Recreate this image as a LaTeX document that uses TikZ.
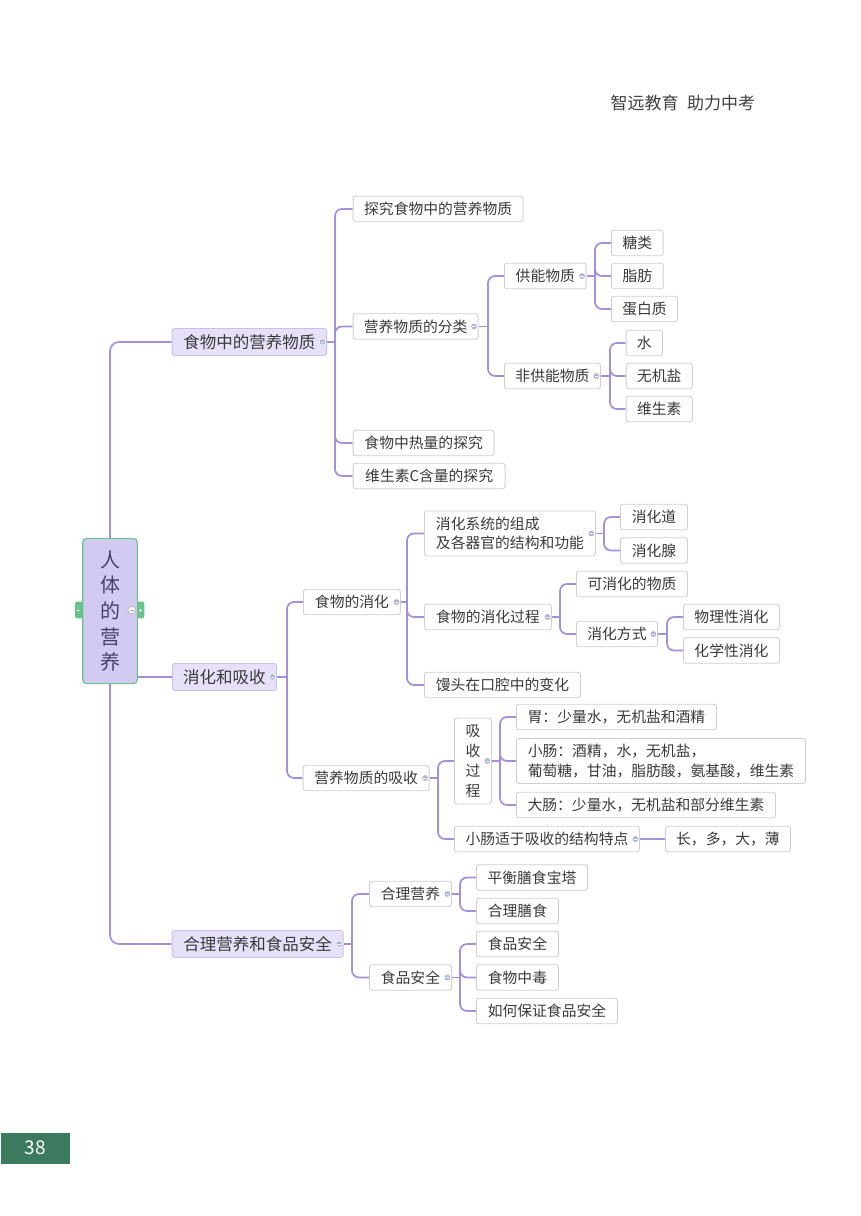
\documentclass[tikz,border=0pt]{standalone}
\usepackage{fontspec}
\setmainfont{Noto Sans CJK SC}
\usetikzlibrary{calc}
\definecolor{conncol}{HTML}{A48FDD}
\definecolor{bordergray}{HTML}{CFCFCF}
\definecolor{txt}{HTML}{3A3A3A}
\definecolor{lonefill}{HTML}{E6E1F8}
\definecolor{loneborder}{HTML}{C8BFEC}
\definecolor{rootfill}{HTML}{D2CAF0}
\definecolor{rootborder}{HTML}{66C38A}
\definecolor{roottext}{HTML}{4B4166}
\definecolor{iconcol}{HTML}{A7B3D8}
\definecolor{pagegreen}{HTML}{3B7A5E}
\definecolor{headgray}{HTML}{404040}
\pgfdeclarelayer{bg}
\pgfsetlayers{bg,main}
\newcommand\branch[3]{%
  \coordinate (vx) at (#2,0);
  \draw[cn] (#1.east) -- (#1.east -| vx);
  \foreach \c in {#3}{\draw[cn] (#1.east -| vx) |- (\c.west);}
}
\newcommand\collapseicon[1]{%
  \filldraw[fill=iconcol, draw=white, line width=0.6pt] ($(#1.east)+(-4.5,0)$) circle (3.3pt);
  \draw[white, line width=0.8pt] ($(#1.east)+(-6.3,0)$) -- ($(#1.east)+(-2.7,0)$);
}
\begin{document}
\begin{tikzpicture}[x=1pt,y=-1pt,
  box/.style={draw=bordergray, line width=0.9pt, rounded corners=2.5pt, fill=white, text=txt,
     font=\fontsize{14.8}{20}\selectfont, inner xsep=3pt, inner ysep=0pt, minimum height=25.5pt,
     anchor=west, align=center},
  lone/.style={box, fill=lonefill, draw=loneborder, font=\fontsize{16.5}{20}\selectfont, minimum height=27pt},
  cn/.style={draw=conncol, line width=1.7pt, rounded corners=7pt},
]
\useasboundingbox (0,0) rectangle (860,1216);

% header and page number
\node[text=headgray, font=\fontsize{17}{20}\selectfont, anchor=west, inner sep=0pt] (hdr) at (610.5,103) {智远教育\hspace{0.5em}助力中考};
\node[fill=pagegreen, minimum width=68.5pt, minimum height=30.6pt, anchor=north west, inner sep=0pt,
      text=white, font=\fontsize{19}{20}\selectfont] (pg) at (1,1132.7) {38};

% root
\node[draw=rootborder, fill=rootfill, line width=1.1pt, rounded corners=4pt, text=roottext,
      minimum width=54.6pt, minimum height=145.3pt, inner sep=0pt, align=center,
      font=\fontsize{20}{25.7}\selectfont] (root) at (110,611) {人\\体\\的\\营\\养};

% level 1
\node[lone, minimum width=154.5pt] (n1) at (171.7,342) {食物中的营养物质};
\node[lone, minimum width=104pt] (n2) at (172,677) {消化和吸收};
\node[lone, minimum width=171pt] (n3) at (171.7,944) {合理营养和食品安全};

% branch 1
\node[box, minimum width=170pt] (a1) at (352.7,209) {探究食物中的营养物质};
\node[box, minimum width=125pt] (a2) at (352.7,326.5) {营养物质的分类};
\node[box, minimum width=141pt] (a3) at (352.7,443) {食物中热量的探究};
\node[box, minimum width=152pt] (a4) at (352.7,476) {维生素C含量的探究};
\node[box, minimum width=81.7pt] (b1) at (504,276) {供能物质};
\node[box, minimum width=96pt] (b2) at (504,376) {非供能物质};
\node[box, minimum width=51.7pt] (c1) at (611,243) {糖类};
\node[box, minimum width=51.7pt] (c2) at (611,276) {脂肪};
\node[box, minimum width=66pt] (c3) at (611,309) {蛋白质};
\node[box, minimum width=36.3pt] (c4) at (625.7,343) {水};
\node[box, minimum width=66.3pt] (c5) at (625.7,376) {无机盐};
\node[box, minimum width=66.3pt] (c6) at (625.7,409) {维生素};

% branch 2
\node[box, minimum width=97pt] (d1) at (303,602) {食物的消化};
\node[box, minimum width=126pt] (d2) at (302.7,778) {营养物质的吸收};
\node[box, minimum width=171pt, minimum height=45pt, align=left, font=\fontsize{14.8}{19.5}\selectfont] (e1) at (424,533.5) {消化系统的组成\\及各器官的结构和功能};
\node[box, minimum width=127pt] (e2) at (424,617) {食物的消化过程};
\node[box, minimum width=156pt] (e3) at (424,685) {馒头在口腔中的变化};
\node[box, minimum width=67pt] (f1) at (620,517) {消化道};
\node[box, minimum width=67pt] (f2) at (620,550.5) {消化腺};
\node[box, minimum width=111pt] (g1) at (576,584) {可消化的物质};
\node[box, minimum width=81pt] (g2) at (576,634) {消化方式};
\node[box, minimum width=96pt] (h1) at (683,617) {物理性消化};
\node[box, minimum width=96pt] (h2) at (683,650.5) {化学性消化};
\node[box, minimum width=37pt, minimum height=86pt] (i1) at (454,761) {吸\\收\\过\\程};
\node[box, minimum width=185pt] (i2) at (454,839) {小肠适于吸收的结构特点};
\node[box, minimum width=200pt] (j1) at (516,717) {胃：少量水，无机盐和酒精};
\node[box, minimum width=289pt, minimum height=45pt, align=left] (j2) at (516,761) {小肠：酒精，水，无机盐，\\葡萄糖，甘油，脂肪酸，氨基酸，维生素};
\node[box, minimum width=259pt] (j3) at (516,805) {大肠：少量水，无机盐和部分维生素};
\node[box, minimum width=125pt] (k1) at (665,839) {长，多，大，薄};

% branch 3
\node[box, minimum width=82pt] (m1) at (369,894) {合理营养};
\node[box, minimum width=82pt] (m2) at (369,977.5) {食品安全};
\node[box, minimum width=111pt] (p1) at (476,877.5) {平衡膳食宝塔};
\node[box, minimum width=82pt] (p2) at (476,911) {合理膳食};
\node[box, minimum width=82pt] (p3) at (476,944) {食品安全};
\node[box, minimum width=82pt] (p4) at (476,977.5) {食物中毒};
\node[box, minimum width=141pt] (p5) at (476,1011) {如何保证食品安全};

\begin{pgfonlayer}{bg}
  % root trunk
  \draw[cn, rounded corners=9pt] (root.north) |- (n1.west);
  \draw[cn, rounded corners=9pt] (root.south) |- (n3.west);
  \draw[cn] (root.east |- n2.west) -- (n2.west);
  % side tabs of root
  \fill[rootborder, rounded corners=2pt] (75,601.7) rectangle (83,618.3);
  \fill[rootborder, rounded corners=2pt] (137,601.7) rectangle (144.3,618.3);
  \branch{n1}{335}{a1,a2,a3,a4}
  \branch{a2}{488}{b1,b2}
  \branch{b1}{595}{c1,c2,c3}
  \branch{b2}{610}{c4,c5,c6}
  \branch{n2}{287}{d1,d2}
  \branch{d1}{407}{e1,e2,e3}
  \branch{e1}{604}{f1,f2}
  \branch{e2}{560}{g1,g2}
  \branch{g2}{667}{h1,h2}
  \branch{d2}{438}{i1,i2}
  \branch{i1}{500}{j1,j2,j3}
  \draw[cn] (i2.east) -- (k1.west);
  \branch{n3}{352}{m1,m2}
  \branch{m1}{460}{p1,p2}
  \branch{m2}{460}{p3,p4,p5}
\end{pgfonlayer}

% small white marks on the tabs
\draw[white, line width=0.6pt] (77.3,610) -- (80.3,610);
\draw[white, line width=0.6pt] (139.2,610) -- (142.2,610);
\draw[white, line width=0.6pt] (140.7,608.5) -- (140.7,611.5);
% collapse icon of root
\filldraw[fill=white, draw=gray!60, line width=0.7pt] (131.7,610) circle (3.8pt);
\draw[gray!70, line width=0.7pt] (129.5,610) -- (133.9,610);

\foreach \p in {n1,a2,b1,b2,n2,d1,e1,e2,g2,d2,i1,i2,n3,m1,m2}{\collapseicon{\p}}
\end{tikzpicture}
\end{document}
